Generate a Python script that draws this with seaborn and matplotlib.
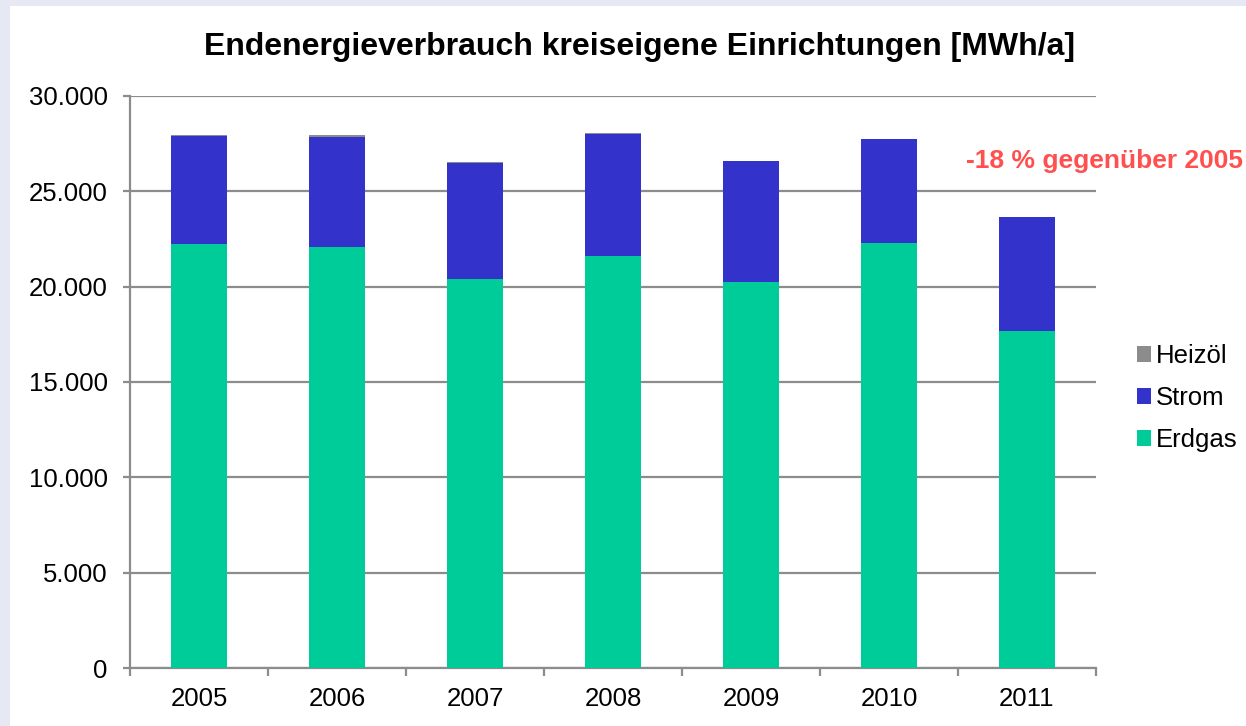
import numpy as np
import pandas as pd
import matplotlib
matplotlib.use("Agg")
import matplotlib.pyplot as plt
from matplotlib.patches import Patch, Rectangle
from matplotlib.ticker import FuncFormatter, FixedLocator
import seaborn as sns

# Daten
jahre = ["2005", "2006", "2007", "2008", "2009", "2010", "2011"]
erdgas = [22240, 22080, 20400, 21610, 20240, 22290, 17670]
strom = [5650, 5770, 6090, 6410, 6330, 5440, 5970]
heizoel = [60, 100, 30, 40, 30, 30, 20]

titel = "Endenergieverbrauch kreiseigene Einrichtungen [MWh/a]"
hinweis = "-18 % gegenüber 2005"

farben = {"Heizöl": "#8c8c8c", "Strom": "#3333cc", "Erdgas": "#00cc99"}

sns.set_theme(style="white")
plt.rcParams['font.family'] = ['Liberation Sans', 'DejaVu Sans']
plt.rcParams['text.color'] = 'black'

df = pd.DataFrame({"Jahr": jahre, "Erdgas": erdgas, "Strom": strom, "Heizöl": heizoel})
df["cum_erdgas"] = df["Erdgas"]
df["cum_strom"] = df["Erdgas"] + df["Strom"]
df["cum_heizoel"] = df["cum_strom"] + df["Heizöl"]

fig = plt.figure(figsize=(12.46, 7.26), dpi=100)
fig.patch.set_facecolor("#e6e8f4")
# weisse Flaeche (Diagrammbereich), hinter den Achsen
fig.patches.append(Rectangle((10 / 1246, 0), 1, 1 - 6 / 726, transform=fig.transFigure,
                             facecolor="white", edgecolor="none", zorder=-5))

ax = fig.add_axes([130 / 1246, 58 / 726, 966 / 1246, 572 / 726])
ax.set_facecolor("white")
ax.set_zorder(2)

# gestapelt: von hinten nach vorne zeichnen
for spalte, name in [("cum_heizoel", "Heizöl"), ("cum_strom", "Strom"), ("cum_erdgas", "Erdgas")]:
    sns.barplot(data=df, x="Jahr", y=spalte, order=jahre, color=farben[name],
                width=0.4, saturation=1, linewidth=0, ax=ax, zorder=3)

ax.set_ylim(0, 30000)
ax.set_xlim(-0.5, 6.5)
ax.set_xlabel("")
ax.set_ylabel("")

ax.set_yticks(np.arange(0, 30001, 5000))
ax.yaxis.set_major_formatter(FuncFormatter(lambda v, p: f"{int(v):,}".replace(",", ".")))
ax.grid(axis="y", color="#8c8c8c", linewidth=1.6, zorder=0)
ax.set_axisbelow(True)

ax.xaxis.set_minor_locator(FixedLocator(np.arange(-0.5, 7, 1)))
ax.tick_params(axis="x", which="major", length=0, pad=14, labelsize=18.5, labelcolor="black")
ax.tick_params(axis="x", which="minor", length=6, width=1.6, color="#8c8c8c", direction="out")
ax.tick_params(axis="y", which="major", length=5, width=1.6, color="#8c8c8c", direction="out",
               pad=11, labelsize=18.5, labelcolor="black")
ax.tick_params(bottom=True, left=True, which="both")

for s in ["top", "right"]:
    ax.spines[s].set_visible(False)
for s in ["left", "bottom"]:
    ax.spines[s].set_color("#8c8c8c")
    ax.spines[s].set_linewidth(1.6)

fig.text(640 / 1246, 1 - 47 / 726, titel, ha="center", va="center",
         fontsize=23, fontweight="bold", color="black")
fig.text(1104 / 1246, 1 - 161 / 726, hinweis, ha="center", va="center",
         fontsize=19, fontweight="bold", color="#ff5050")

handles = [Patch(facecolor=farben[n], edgecolor="none", label=n) for n in ["Heizöl", "Strom", "Erdgas"]]
fig.legend(handles=handles, loc="center left", bbox_to_anchor=(1137 / 1246, 1 - 398 / 726),
           frameon=False, fontsize=18.5, handlelength=0.55, handleheight=0.55,
           handletextpad=0.2, labelspacing=0.7, borderaxespad=0, borderpad=0)

fig.savefig("out.png", dpi=100, facecolor=fig.get_facecolor())
